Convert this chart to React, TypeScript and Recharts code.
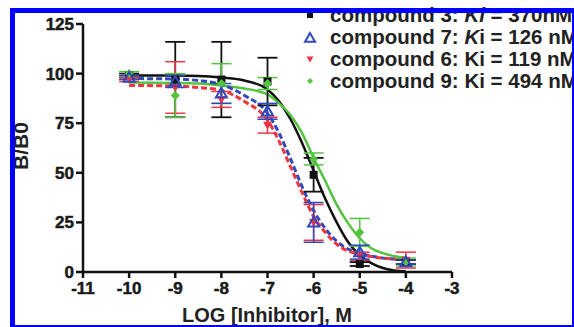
import {
  ComposedChart,
  Line,
  Scatter,
  ErrorBar,
  XAxis,
  YAxis,
  Legend,
} from "recharts";

const FONT = "'Liberation Sans', Arial, sans-serif";

// measured concentrations (log M)
const doses = [-10, -9, -8, -7, -6, -5, -4];

const c3Mean = [99, 97, 97, 96, 49, 4, 5];
const c3Err = [1, 19, 19, 12, 8.5, 1, 1];
const c7Mean = [98, 96, 90, 81, 25, 10, 5];
const c7Err = [1, 3, 5, 4, 10, 3.5, 1];
const c6Mean = [97, 93, 87, 74, 25, 8, 6];
const c6Err = [1, 13, 4, 4, 9, 2, 4];
const c9Mean = [100, 89, 95, 95, 57, 20, 5];
const c9Err = [1, 11, 10, 3, 3, 7, 2];

// fitted curves
const curveX = [-10, -9, -8.5, -8, -7.5, -7, -6.75, -6.5, -6.25, -6, -5.75, -5.5, -5.25, -5, -4.75, -4.5, -4.25, -4];
const c3Fit = [99, 99, 98.8, 98, 96.5, 92, 86, 77, 65, 51, 37, 25, 15, 8.5, 4.5, 2, 0.8, 0.3];
const c7Fit = [97.5, 97.3, 96.5, 94.5, 89, 80, 70, 57, 43, 31, 22, 15.5, 11.5, 9.5, 8, 7, 6.5, 6.3];
const c6Fit = [94, 93.8, 93, 91.5, 86, 76.5, 66, 53, 40, 28, 20, 14, 10.5, 9, 7.8, 7, 6.5, 6.3];
const c9Fit = [95.5, 95.3, 95, 94, 92.5, 89.5, 85, 79, 70, 57.5, 46, 34, 24.5, 17, 12, 9.5, 8, 7.3];

const xTicks = [-11, -10, -9, -8, -7, -6, -5, -4, -3];
const yTicks = [0, 25, 50, 75, 100, 125];

const BLACK = "#111111";
const BLUE = "#3048bf";
const RED = "#ee3540";
const GREEN = "#52c43e";

const pts = (mean: number[], err: number[]) =>
  doses.map((x, i) => ({ x, y: mean[i], err: err[i] }));
const fit = (vals: number[]) => curveX.map((x, i) => ({ x, y: vals[i] }));

const Square = ({ cx, cy, s = 4 }: any) => (
  <rect x={cx - s} y={cy - s} width={s * 2} height={s * 2} fill={BLACK} />
);
const TriUp = ({ cx, cy, s = 5.5 }: any) => (
  <polygon
    points={`${cx},${cy - s} ${cx + s},${cy + s * 0.75} ${cx - s},${cy + s * 0.75}`}
    fill="none"
    stroke={BLUE}
    strokeWidth={2}
  />
);
const TriDown = ({ cx, cy, s = 4.5 }: any) => (
  <polygon
    points={`${cx - s},${cy - s * 0.75} ${cx + s},${cy - s * 0.75} ${cx},${cy + s}`}
    fill={RED}
  />
);
const Diamond = ({ cx, cy, s = 4.5 }: any) => (
  <polygon
    points={`${cx},${cy - s} ${cx + s},${cy} ${cx},${cy + s} ${cx - s},${cy}`}
    fill={GREEN}
  />
);

const legendRows = [
  { mark: <Square cx={8} cy={8} s={3} />, pre: "compound 3: ", it: "Ki", post: " = 370nM" },
  { mark: <TriUp cx={8} cy={9} s={5} />, pre: "compound 7: ", it: "K", post: "i = 126 nM" },
  { mark: <TriDown cx={8} cy={8} s={3.5} />, pre: "compound 6: Ki = 119 nM", it: "", post: "" },
  { mark: <Diamond cx={8} cy={8} s={3} />, pre: "compound 9: Ki = 494 nM", it: "", post: "" },
];

const LegendBox = () => (
  <div style={{ fontFamily: FONT, fontWeight: 700, fontSize: 20.5, color: "#222" }}>
    {legendRows.map((r, i) => (
      <div key={i} style={{ display: "flex", alignItems: "center", height: 22, whiteSpace: "nowrap" }}>
        <svg width={16} height={16} style={{ marginRight: 12 }}>
          {r.mark}
        </svg>
        <span>
          {r.pre}
          {r.it && <i>{r.it}</i>}
          {r.post}
        </span>
      </div>
    ))}
  </div>
);

const tickText = {
  fontFamily: FONT,
  fontWeight: 700,
  fontSize: 17,
  fill: "#1a1a1a",
  stroke: "#1a1a1a",
  strokeWidth: 0.5,
};

const XTick = ({ x, y, payload }: any) => (
  <text x={x} y={y + 14} textAnchor="middle" style={tickText}>
    {payload.value}
  </text>
);
const YTick = ({ x, y, payload }: any) => (
  <text x={x} y={y + 6} textAnchor="end" style={tickText}>
    {payload.value}
  </text>
);

const axisStroke = { stroke: BLACK, strokeWidth: 2.5 };

export default function App() {
  return (
    <div style={{ position: "absolute", left: 0, top: 0, width: 574, height: 327, background: "#fff", overflow: "hidden" }}>
      <ComposedChart width={574} height={327} margin={{ top: 24, right: 122, bottom: 0, left: 0 }}>
        <XAxis
          type="number"
          dataKey="x"
          domain={[-11, -3]}
          ticks={xTicks}
          interval={0}
          height={55}
          tick={<XTick />}
          tickSize={6}
          tickMargin={2}
          axisLine={axisStroke}
          tickLine={axisStroke}
          label={{
            content: () => (
              <text x={267} y={322} textAnchor="middle" style={{ fontFamily: FONT, fontWeight: 700, fontSize: 20, fill: "#222" }}>
                LOG [Inhibitor], M
              </text>
            ),
          }}
        />
        <YAxis
          type="number"
          domain={[0, 125]}
          ticks={yTicks}
          interval={0}
          width={83}
          tick={<YTick />}
          tickSize={7}
          tickMargin={2}
          axisLine={axisStroke}
          tickLine={axisStroke}
          label={{
            content: () => (
              <text
                x={28}
                y={146}
                textAnchor="middle"
                transform="rotate(-90 28 146)"
                style={{ fontFamily: FONT, fontWeight: 700, fontSize: 21, fill: "#222" }}
              >
                B/B0
              </text>
            ),
          }}
        />
        <Legend
          layout="vertical"
          align="center"
          verticalAlign="middle"
          content={() => <LegendBox />}
          wrapperStyle={{ top: 4, left: 302, width: 340 }}
        />
        <Line data={fit(c3Fit)} dataKey="y" type="monotone" stroke={BLACK} strokeWidth={2.5} dot={false} isAnimationActive={false} legendType="none" />
        <Line data={fit(c9Fit)} dataKey="y" type="monotone" stroke={GREEN} strokeWidth={2.5} dot={false} isAnimationActive={false} legendType="none" />
        <Line data={fit(c7Fit)} dataKey="y" type="monotone" stroke={BLUE} strokeWidth={3} strokeDasharray="6 3" dot={false} isAnimationActive={false} legendType="none" />
        <Line data={fit(c6Fit)} dataKey="y" type="monotone" stroke={RED} strokeWidth={3} strokeDasharray="6 3" dot={false} isAnimationActive={false} legendType="none" />
        <Scatter data={pts(c3Mean, c3Err)} dataKey="y" shape={(p: any) => <Square cx={p.cx} cy={p.cy} />} isAnimationActive={false}>
          <ErrorBar dataKey="err" direction="y" width={10} stroke={BLACK} strokeWidth={1.8} isAnimationActive={false} />
        </Scatter>
        <Scatter data={pts(c6Mean, c6Err)} dataKey="y" shape={(p: any) => <TriDown cx={p.cx} cy={p.cy} />} isAnimationActive={false}>
          <ErrorBar dataKey="err" direction="y" width={10} stroke={RED} strokeWidth={1.5} isAnimationActive={false} />
        </Scatter>
        <Scatter data={pts(c9Mean, c9Err)} dataKey="y" shape={(p: any) => <Diamond cx={p.cx} cy={p.cy} />} isAnimationActive={false}>
          <ErrorBar dataKey="err" direction="y" width={10} stroke={GREEN} strokeWidth={1.5} isAnimationActive={false} />
        </Scatter>
        <Scatter data={pts(c7Mean, c7Err)} dataKey="y" shape={(p: any) => <TriUp cx={p.cx} cy={p.cy} />} isAnimationActive={false}>
          <ErrorBar dataKey="err" direction="y" width={10} stroke={BLUE} strokeWidth={1.5} isAnimationActive={false} />
        </Scatter>
      </ComposedChart>
      <div
        style={{
          position: "absolute",
          left: 10,
          top: 8,
          width: 567,
          height: 322,
          boxSizing: "border-box",
          border: "5px solid #0000ff",
          pointerEvents: "none",
        }}
      />
    </div>
  );
}
